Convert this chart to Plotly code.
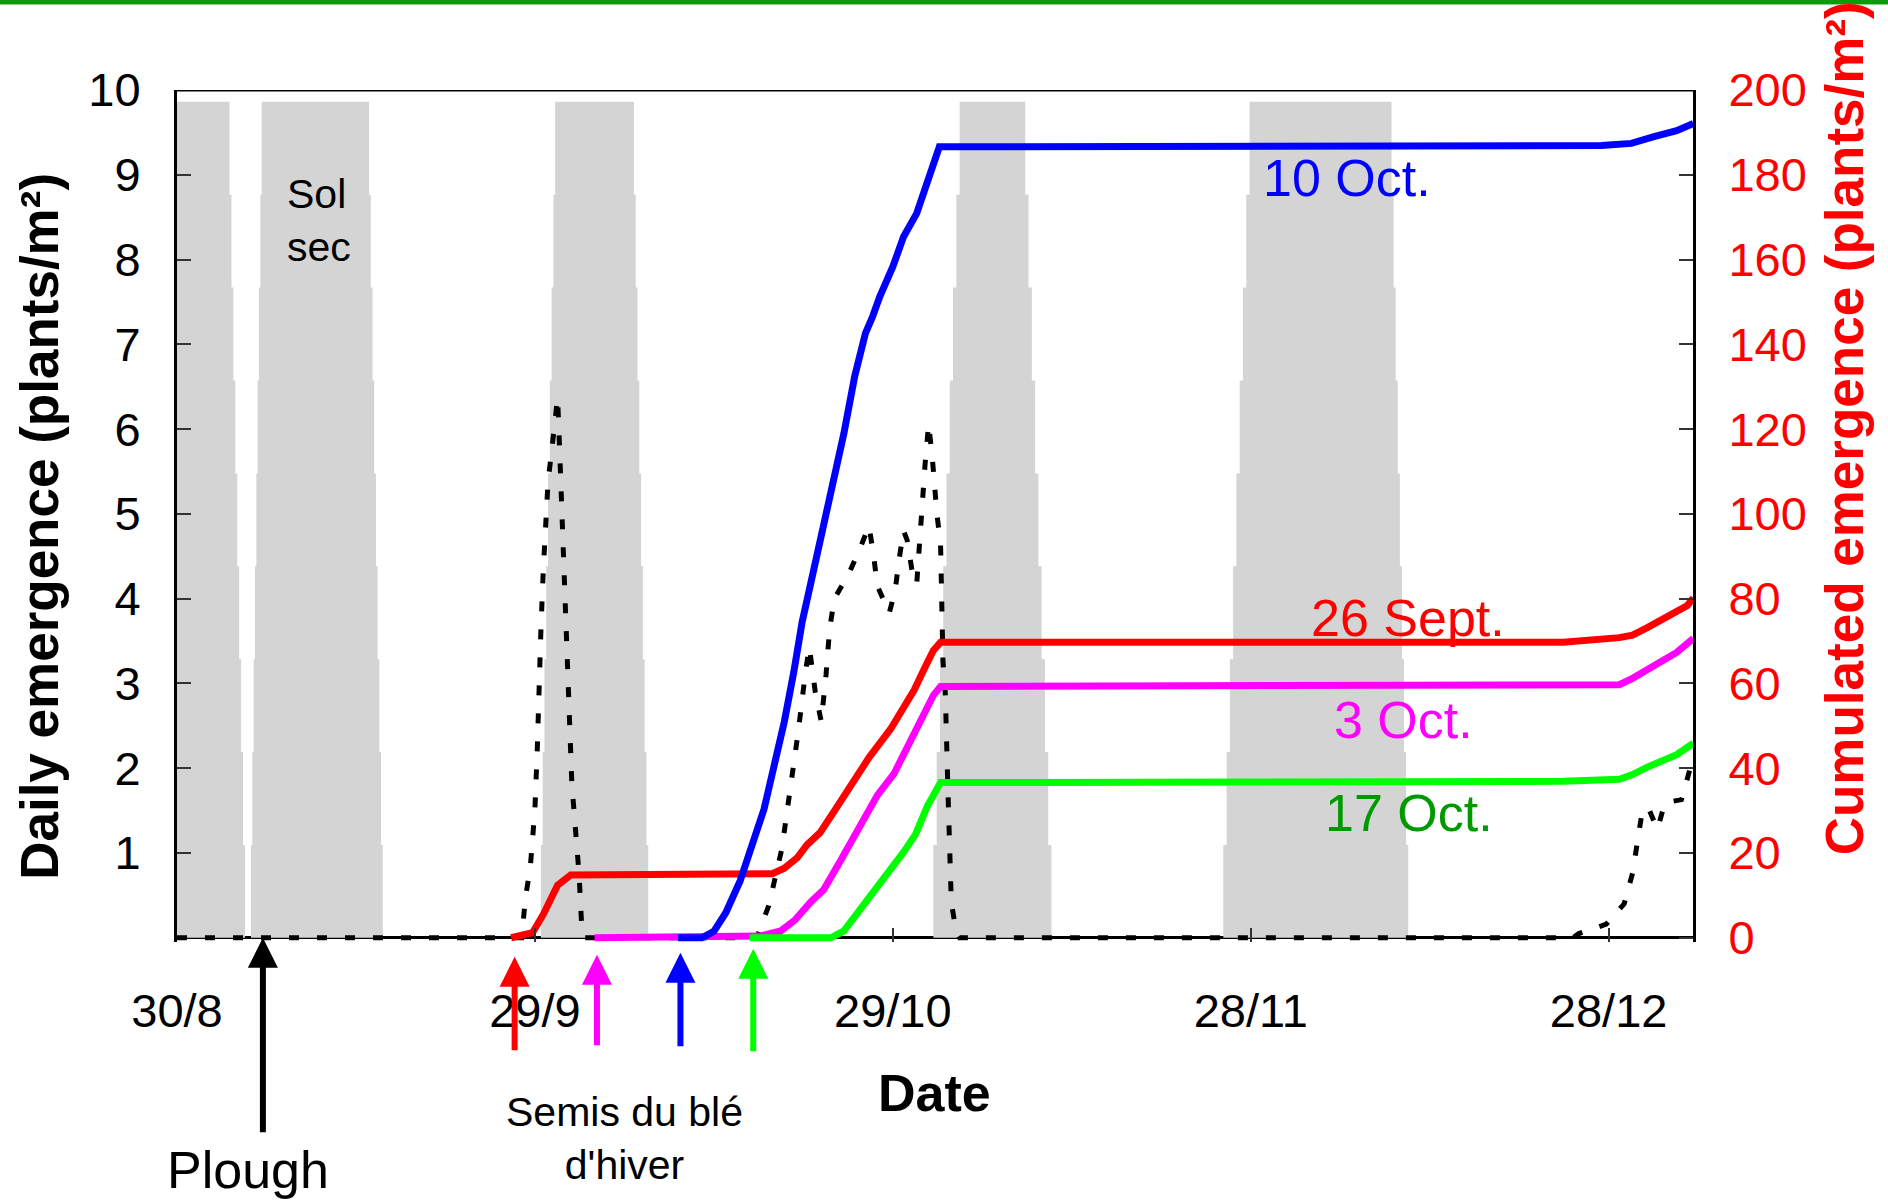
import numpy as np
import pandas as pd
import plotly.graph_objects as go

FONT = "Liberation Sans, Arial, sans-serif"
START = pd.Timestamp("2005-08-30")
X_END_DAY = 127.07

# ---------------- data ----------------
tick_days = [0, 30, 60, 90, 120]
tick_labels = ["30/8", "29/9", "29/10", "28/11", "28/12"]
left_ticks = [1, 2, 3, 4, 5, 6, 7, 8, 9, 10]
right_ticks = [0, 20, 40, 60, 80, 100, 120, 140, 160, 180, 200]

# dry-soil periods ("Sol sec"), days since 30/8, top and bottom extents
band_top_start = [-0.5, 7.1, 31.7, 65.6, 89.9]
band_top_end = [4.4, 16.1, 38.3, 71.1, 101.8]
band_bot_start = [-0.5, 6.2, 30.5, 63.4, 87.7]
band_bot_end = [5.7, 17.25, 39.5, 73.3, 103.2]
band_top_value = 9.86

# daily emergence (left axis)
daily_days = [0, 28.9, 29.2, 29.6, 29.8, 30.0, 30.2, 30.3, 30.5, 30.7, 31.0, 31.1, 31.4, 31.7,
              31.9, 32.0, 32.2, 32.4, 32.5, 32.7, 32.9, 33.1, 33.3, 33.5, 33.7, 33.95, 34.2,
              48.6, 49.6, 50.7, 51.4, 52.1, 52.7, 53.0, 53.5, 54.0, 54.4, 54.7, 55.1, 56.3,
              57.3, 58.0, 58.4, 58.7, 59.7, 60.2, 60.5, 60.9, 61.2, 61.6, 62.0, 62.3, 62.7,
              63.0, 63.3, 63.7, 64.0, 64.2, 64.4, 64.6, 64.8, 64.9, 65.3, 65.6,
              117.0, 117.5, 119.8, 121.3, 122.0, 122.4, 122.8, 123.3, 124.1, 124.7, 126.1,
              126.8, 127.1]
daily_vals = [0, 0, 0.47, 0.81, 1.16, 1.52, 2.23, 2.91, 3.62, 4.33, 5.03, 5.38, 5.74, 6.08,
              6.37, 6.03, 5.32, 4.61, 3.90, 3.20, 2.51, 1.80, 1.46, 1.10, 0.75, 0.06, 0,
              0, 0.38, 1.05, 1.75, 2.46, 3.16, 3.43, 2.9, 2.55, 3.1, 3.64, 4.0, 4.29,
              4.61, 4.86, 4.5, 4.15, 3.83, 4.10, 4.44, 4.80, 4.69, 4.34, 4.17, 4.88, 5.58,
              6.06, 5.68, 4.99, 4.65, 3.27, 2.88, 1.83, 0.9, 0.42, 0.08, 0,
              0, 0.05, 0.16, 0.4, 0.76, 1.09, 1.48, 1.54, 1.28, 1.59, 1.63,
              1.98, 2.04]

# cumulated emergence (right axis) per sowing date
sept26_days = [28, 29.8, 30.7, 31.9, 33.0, 47.2, 49.9, 50.9, 52.0, 52.8, 53.9, 55.1, 56.5,
               58.0, 59.8, 60.9, 61.8, 62.8, 63.4, 64.0, 116.2, 120.9, 122.0, 123.2, 124.2,
               125.7, 126.6, 127.1]
sept26_vals = [0, 1.2, 5.5, 12.4, 14.8, 14.8, 15.1, 16.4, 18.9, 21.9, 24.8, 29.9, 36.2,
               42.5, 49.2, 54.3, 58.5, 64.4, 67.8, 69.7, 69.7, 70.8, 71.4, 73.1, 74.7,
               76.8, 78.4, 80.2]
oct3_days = [35, 47.2, 48.9, 50.6, 51.8, 53.1, 54.2, 55.6, 57.3, 58.7, 60.1, 61.8, 62.6,
             63.4, 64.0, 116.2, 120.9, 122.0, 123.2, 124.2, 125.7, 127.1]
oct3_vals = [0, 0, 0.4, 1.6, 4.2, 8.4, 11.3, 18.1, 26.9, 33.6, 38.7, 48, 52.6,
             57.2, 59.3, 59.3, 59.7, 61.2, 63.2, 64.9, 67.3, 70.6]
oct10_days = [42, 44.0, 45.0, 46.0, 47.2, 48.3, 49.2, 50.0, 50.9, 51.7, 52.4, 53.0, 53.8,
              54.8, 55.9, 56.8, 57.7, 58.3, 58.9, 60.0, 60.9, 62.0, 63.0, 63.9, 119.4,
              121.9, 123.8, 125.7, 127.1]
oct10_vals = [0, 0, 1.5, 5.9, 13.4, 23.1, 30.3, 40.0, 50.9, 62.7, 74.5, 82.1, 92.2,
              104, 119, 132.4, 142.6, 146.5, 151.2, 158.3, 165.4, 170.9, 178.8, 186.6, 186.9,
              187.4, 189, 190.4, 192.1]
oct17_days = [48, 54.8, 55.9, 56.7, 58.1, 59.5, 60.9, 61.9, 62.9, 64.0, 116.2, 120.9, 122.0,
              123.2, 124.2, 125.7, 127.1]
oct17_vals = [0, 0, 1.6, 4.6, 10.0, 14.7, 20.2, 24.4, 31.1, 36.6, 36.9, 37.4, 38.5,
              40.2, 41.4, 43.2, 45.9]

series_names = ["26 Sept.", "3 Oct.", "10 Oct.", "17 Oct."]
series_days = [sept26_days, oct3_days, oct10_days, oct17_days]
series_vals = [sept26_vals, oct3_vals, oct10_vals, oct17_vals]
series_colors = ["#ff0000", "#ff00ff", "#0000ff", "#00ff00"]
label_colors = ["#ff0000", "#ff00ff", "#0000ff", "#009900"]
label_days = [103.2, 102.8, 98.1, 103.3]
label_vals = [75.5, 51.4, 179.2, 29.5]

# sowing dates (arrows) and ploughing
sow_days = [28.3, 35.2, 42.2, 48.3]
plough_day = 7.2

# ---------------- layout geometry (pixels) ----------------
W, H = 1888, 1201
PLOT_L, PLOT_R = 177, 1692.6
PLOT_T, PLOT_B = 90, 942.24          # y-range [-0.05, 10]
PLOT_H = PLOT_B - PLOT_T
PLOT_W = PLOT_R - PLOT_L

sow_tip_px = [957, 955, 953, 949]
sow_tail_px = [1052, 1047, 1048, 1053]
plough_tip_px, plough_tail_px = 938, 1134


def py(p):
    """pixel row -> paper y"""
    return (PLOT_B - p) / PLOT_H


def pxp(p):
    """pixel column -> paper x"""
    return (p - PLOT_L) / PLOT_W


def to_dates(days):
    return [START + pd.Timedelta(days=float(d)) for d in days]


def band_polygon(ts, te, bs, be, top, nsteps=9):
    ys = np.linspace(top, 0, nsteps + 1)
    xr = np.linspace(te, be, nsteps)
    xl = np.linspace(ts, bs, nsteps)
    px, pyy = [ts], [top]
    for i in range(nsteps):
        px += [xr[i], xr[i]]
        pyy += [ys[i], ys[i + 1]]
    for i in reversed(range(nsteps)):
        px += [xl[i], xl[i]]
        pyy += [ys[i + 1], ys[i]]
    return px, pyy


fig = go.Figure()

for ts, te, bs, be in zip(band_top_start, band_top_end, band_bot_start, band_bot_end):
    bx, by = band_polygon(ts, te, bs, be, band_top_value)
    fig.add_trace(go.Scatter(x=to_dates(bx), y=by, mode="lines", fill="toself",
                             fillcolor="#d4d4d4", line=dict(width=0), hoverinfo="skip"))

fig.add_trace(go.Scatter(x=to_dates(daily_days), y=daily_vals, mode="lines",
                         line=dict(color="black", width=5, dash="10px,18px")))

for d, v, c in zip(series_days, series_vals, series_colors):
    fig.add_trace(go.Scatter(x=to_dates(d), y=v, yaxis="y2", mode="lines",
                             line=dict(color=c, width=7)))

x_range = to_dates([0, X_END_DAY])

fig.update_layout(
    width=W, height=H,
    margin=dict(l=PLOT_L, r=W - PLOT_R, t=PLOT_T, b=H - PLOT_B, pad=0),
    paper_bgcolor="white", plot_bgcolor="white",
    showlegend=False,
    font=dict(family=FONT, size=47, color="black"),
    xaxis=dict(type="date", range=x_range, tickvals=to_dates(tick_days), ticktext=tick_labels,
               ticks="inside", ticklen=14, tickwidth=2, tickcolor="#333",
               showline=False, showgrid=False, zeroline=False,
               tickfont=dict(size=47, color="black"), ticklabelstandoff=37),
    yaxis=dict(range=[-0.05, 10], tickvals=left_ticks, ticks="inside", ticklen=14,
               tickwidth=2, tickcolor="#333", showline=True, linecolor="black", linewidth=3,
               showgrid=False, zeroline=True, zerolinecolor="black", zerolinewidth=3,
               tickfont=dict(size=47, color="black"), ticklabelstandoff=24),
    yaxis2=dict(range=[-1, 200], overlaying="y", side="right", tickvals=right_ticks,
                ticks="inside", ticklen=14, tickwidth=2, tickcolor="#333", showline=True,
                linecolor="black", linewidth=3, showgrid=False, zeroline=False,
                tickfont=dict(size=47, color="#ff0000"), ticklabelstandoff=23),
)

shapes = [
    dict(type="line", xref="paper", yref="y", x0=0, x1=1, y0=10, y1=10,
         line=dict(color="black", width=3)),
    dict(type="line", xref="paper", yref="paper", x0=-0.2, x1=1.3, y0=py(2), y1=py(2),
         line=dict(color="#0a9a0a", width=4)),
    dict(type="line", xref="paper", yref="paper", x0=-0.2, x1=1.3, y0=py(4.5), y1=py(4.5),
         line=dict(color="#8fd08f", width=1)),
]
fig.update_layout(shapes=shapes)

ann = []
for name, d, v, c in zip(series_names, label_days, label_vals, label_colors):
    ann.append(dict(x=to_dates([d])[0], y=v, xref="x", yref="y2", text=name, showarrow=False,
                    font=dict(size=52, color=c), xanchor="center", yanchor="middle"))

for d, c, tip, tail in zip(sow_days, series_colors, sow_tip_px, sow_tail_px):
    ann.append(dict(x=to_dates([d])[0], y=py(tip), xref="x", yref="paper", text="",
                    showarrow=True, ax=0, ay=tail - tip, arrowhead=2, arrowsize=1.0,
                    arrowwidth=6, arrowcolor=c))
ann.append(dict(x=to_dates([plough_day])[0], y=py(plough_tip_px), xref="x", yref="paper",
                text="", showarrow=True, ax=0, ay=plough_tail_px - plough_tip_px,
                arrowhead=2, arrowsize=1.0, arrowwidth=6, arrowcolor="black"))

ann += [
    dict(x=to_dates([9.05])[0], y=8.455, xref="x", yref="y", text="Sol<br>sec",
         showarrow=False, align="left", xanchor="left", yanchor="middle",
         font=dict(size=41, color="black")),
    dict(x=to_dates([37.5])[0], y=py(1139), xref="x", yref="paper",
         text="Semis du blé<br>d'hiver", showarrow=False, align="center",
         xanchor="center", yanchor="middle", font=dict(size=41, color="black")),
    dict(x=to_dates([5.95])[0], y=py(1170), xref="x", yref="paper", text="Plough",
         showarrow=False, xanchor="center", yanchor="middle",
         font=dict(size=52, color="black")),
    dict(x=to_dates([63.5])[0], y=py(1093), xref="x", yref="paper", text="<b>Date</b>",
         showarrow=False, xanchor="center", yanchor="middle",
         font=dict(size=52, color="black")),
    dict(x=pxp(39.5), y=py(526.5), xref="paper", yref="paper",
         text="<b>Daily emergence (plants/m²)</b>",
         showarrow=False, textangle=-90, xanchor="center", yanchor="middle",
         font=dict(size=53, color="black")),
    dict(x=pxp(1844), y=py(428), xref="paper", yref="paper",
         text="<b>Cumulated emergence (plants/m²)</b>",
         showarrow=False, textangle=-90, xanchor="center", yanchor="middle",
         font=dict(size=53, color="#ff0000")),
]
fig.update_layout(annotations=ann)

fig.write_html("out.html", config={"displayModeBar": False},
               post_script="document.body.style.margin='0px';")
